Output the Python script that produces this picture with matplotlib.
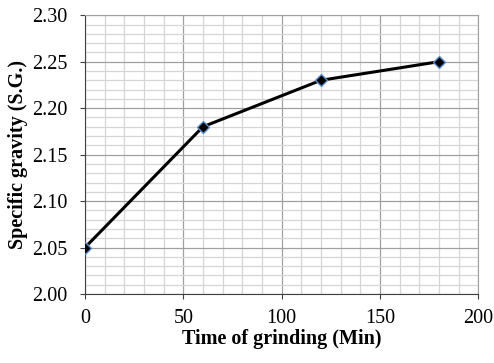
import matplotlib.pyplot as plt
from matplotlib.ticker import MultipleLocator

time_min = [0, 60, 120, 180]
specific_gravity = [2.05, 2.18, 2.23, 2.25]

plt.rcParams['font.family'] = ['Liberation Serif', 'DejaVu Serif']

fig = plt.figure(figsize=(4.94, 3.63), dpi=100)
ax = fig.add_axes([0.172, 0.19, 0.796, 0.768])

ax.plot(time_min, specific_gravity, color='black', linewidth=2.2,
        marker='D', markersize=6, markerfacecolor='black',
        markeredgecolor='#5b8fd0', markeredgewidth=1.0, zorder=3)

ax.set_xlim(0, 200)
ax.set_ylim(2.00, 2.30)
ax.xaxis.set_major_locator(MultipleLocator(50))
ax.xaxis.set_minor_locator(MultipleLocator(10))
ax.yaxis.set_major_locator(MultipleLocator(0.05))
ax.yaxis.set_minor_locator(MultipleLocator(0.01))
ax.yaxis.set_major_formatter(plt.FormatStrFormatter('%.2f'))

ax.grid(which='major', color='#a0a0a0', linewidth=0.9)
ax.grid(which='minor', color='#d6d6d6', linewidth=0.9)
ax.set_axisbelow(True)

for s in ['top', 'right']:
    ax.spines[s].set_color('#a0a0a0')
for s in ['left', 'bottom']:
    ax.spines[s].set_color('#404040')
ax.tick_params(which='major', direction='out', length=3.6, color='#404040',
               labelsize=14.5)
ax.tick_params(which='minor', length=0)
ax.tick_params(axis='x', pad=7)
ax.tick_params(axis='y', pad=9)

ax.set_xlabel('Time of grinding (Min)', fontsize=14.5, fontweight='bold', labelpad=1)
ax.set_ylabel('Specific gravity (S.G.)', fontsize=14.5, fontweight='bold', labelpad=3)

fig.savefig('out.png', dpi=100)
